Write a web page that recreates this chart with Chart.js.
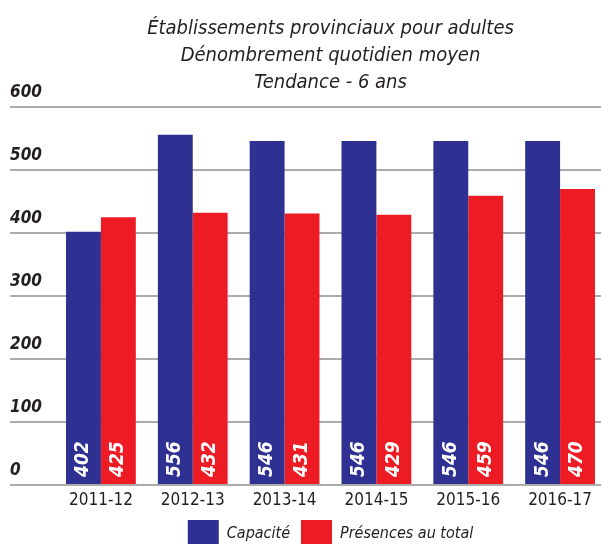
<!DOCTYPE html>
<html>
<head>
<meta charset="utf-8">
<script src="https://cdn.jsdelivr.net/npm/chart.js@4"></script>
<style>
    html, body { margin: 0; padding: 0; background: #fff; overflow: hidden; }
    #wrap { width: 606px; height: 544px; }
</style>
</head>
<body>
<div id="wrap"><canvas id="trendChart"></canvas></div>
<script>
// Chart data
const categories = ['2011-12', '2012-13', '2013-14', '2014-15', '2015-16', '2016-17'];
const capacite = [402, 556, 546, 546, 546, 546];
const presences = [425, 432, 431, 429, 459, 470];
const yTicks = [0, 100, 200, 300, 400, 500, 600];

const titleLines = [
    'Établissements provinciaux pour adultes',
    'Dénombrement quotidien moyen',
    'Tendance - 6 ans'
];

const colors = {
    blue: '#2E3192',
    red: '#ED1C24',
    text: '#231F20',
    grid: '#ABABAB'
};

const fontFamily = "'DejaVu Sans Condensed', 'Liberation Sans', sans-serif";

// White rotated value labels at the foot of each bar
const barValueLabels = {
    id: 'barValueLabels',
    afterDatasetsDraw(chart) {
        const ctx = chart.ctx;
        ctx.save();
        ctx.fillStyle = '#fff';
        ctx.font = `italic bold 19px ${fontFamily}`;
        ctx.textAlign = 'left';
        ctx.textBaseline = 'middle';
        chart.data.datasets.forEach((ds, i) => {
            chart.getDatasetMeta(i).data.forEach((bar, j) => {
                ctx.save();
                ctx.translate(bar.x, bar.base - 7);
                ctx.rotate(-Math.PI / 2);
                ctx.fillText(String(ds.data[j]), 0, 0);
                ctx.restore();
            });
        });
        ctx.restore();
    }
};

const initTrendChart = () => {
    const ctx = document.getElementById('trendChart').getContext('2d');
    const data = {
        labels: categories,
        datasets: [{
            label: 'Capacité',
            data: capacite,
            backgroundColor: colors.blue
        }, {
            label: 'Présences au total',
            data: presences,
            backgroundColor: colors.red
        }]
    };

    const options = {
        responsive: true,
        maintainAspectRatio: false,
        animation: false,
        categoryPercentage: 0.76,
        barPercentage: 1.0,
        layout: {
            padding: { left: 10, top: 0, right: 0, bottom: -13 }
        },
        plugins: {
            title: {
                display: true,
                text: titleLines,
                fullSize: false,
                color: colors.text,
                font: { family: fontFamily, size: 20, style: 'italic', weight: 'normal', lineHeight: 1.35 },
                padding: { top: 15, bottom: 11 }
            },
            legend: {
                position: 'bottom',
                fullSize: false,
                labels: {
                    color: colors.text,
                    boxWidth: 31,
                    boxHeight: 27,
                    padding: 11,
                    font: { family: fontFamily, size: 16, style: 'italic' }
                }
            },
            tooltip: { enabled: false }
        },
        scales: {
            x: {
                afterFit: (scale) => {
                    scale.height = 24;
                },
                grid: { display: false, drawTicks: false },
                border: { display: false },
                ticks: {
                    color: colors.text,
                    padding: 7,
                    font: { family: fontFamily, size: 17, lineHeight: 1.0 }
                }
            },
            y: {
                min: 0,
                max: 600,
                afterBuildTicks: (scale) => {
                    scale.ticks = yTicks.map(v => ({ value: v }));
                },
                afterFit: (scale) => {
                    scale.width = 45;
                },
                grid: {
                    color: colors.grid,
                    lineWidth: 2,
                    tickLength: 45
                },
                border: { display: false },
                ticks: {
                    color: colors.text,
                    crossAlign: 'far',
                    labelOffset: -14,
                    font: { family: fontFamily, size: 17, style: 'italic', weight: 'bold' }
                }
            }
        }
    };

    new Chart(ctx, {
        type: 'bar',
        data,
        options,
        plugins: [barValueLabels]
    });
};

initTrendChart();
</script>
</body>
</html>
